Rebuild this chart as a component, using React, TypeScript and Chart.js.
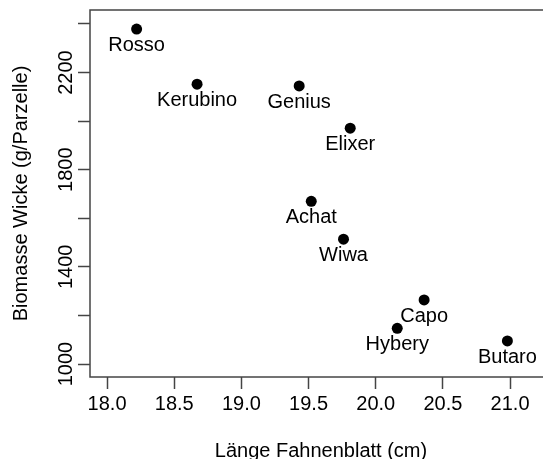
import React, { useEffect, useRef } from "react";
import { Chart, registerables } from "chart.js";

Chart.register(...registerables);

const names = ["Rosso", "Kerubino", "Genius", "Elixer", "Achat", "Wiwa", "Capo", "Hybery", "Butaro"];
const lengths = [18.22, 18.67, 19.43, 19.81, 19.52, 19.76, 20.36, 20.16, 20.98];
const biomass = [2379, 2152, 2145, 1971, 1670, 1514, 1264, 1147, 1095];
const labeledYTicks = [1000, 1400, 1800, 2200];
const xTitle = "Länge Fahnenblatt (cm)";
const yTitle = "Biomasse Wicke (g/Parzelle)";

const FONT = "'Liberation Sans', Arial, Helvetica, sans-serif";
const FS = 20;
const LINE = "#444";

export default function App() {
  const ref = useRef<HTMLCanvasElement>(null);

  useEffect(() => {
    const canvas = ref.current;
    if (!canvas) return;

    const textPlugin = {
      id: "rtext",
      afterDraw(chart: any) {
        const ctx = chart.ctx as CanvasRenderingContext2D;
        const area = chart.chartArea;
        const ys = chart.scales.y;
        ctx.save();
        // box
        ctx.strokeStyle = LINE;
        ctx.lineWidth = 1.5;
        ctx.strokeRect(area.left, area.top, area.right - area.left, area.bottom - area.top);
        ctx.fillStyle = "#000";
        ctx.font = `${FS}px ${FONT}`;
        // point labels
        const meta = chart.getDatasetMeta(0);
        ctx.textAlign = "center";
        ctx.textBaseline = "alphabetic";
        meta.data.forEach((el: any, i: number) => {
          ctx.fillText(names[i], el.x, el.y + 22);
        });
        // x title
        ctx.fillText(xTitle, (area.left + area.right) / 2, 457);
        // y tick labels
        ys.ticks.forEach((t: any) => {
          if (!labeledYTicks.includes(t.value)) return;
          const py = ys.getPixelForValue(t.value);
          ctx.save();
          ctx.translate(72, py);
          ctx.rotate(-Math.PI / 2);
          ctx.fillText(String(t.value), 0, 0);
          ctx.restore();
        });
        // y title
        ctx.save();
        ctx.translate(27, (area.top + area.bottom) / 2);
        ctx.rotate(-Math.PI / 2);
        ctx.fillText(yTitle, 0, 0);
        ctx.restore();
        ctx.restore();
      },
    };

    const chart = new Chart(canvas, {
      type: "scatter",
      data: {
        datasets: [
          {
            data: lengths.map((x, i) => ({ x, y: biomass[i] })),
            backgroundColor: "#000",
            borderColor: "#000",
            pointRadius: 5.5,
            pointHoverRadius: 5.5,
            borderWidth: 0,
          },
        ],
      },
      options: {
        responsive: false,
        animation: false,
        devicePixelRatio: 1,
        layout: { padding: { top: 10, right: 8, left: 0, bottom: 0 } },
        plugins: { legend: { display: false }, tooltip: { enabled: false } },
        scales: {
          x: {
            type: "linear",
            min: 17.873,
            max: 21.312,
            afterFit: (s: any) => {
              s.height = 82;
            },
            border: { display: false },
            grid: {
              drawOnChartArea: false,
              drawTicks: true,
              tickLength: 12,
              tickColor: LINE,
              tickWidth: 1.5,
            },
            ticks: {
              stepSize: 0.5,
              includeBounds: false,
              color: "#000",
              font: { family: FONT, size: FS },
              padding: 3,
              maxRotation: 0,
              autoSkip: false,
              callback: (v: any) => Number(v).toFixed(1),
            },
          },
          y: {
            type: "linear",
            min: 946.5,
            max: 2457.6,
            afterFit: (s: any) => {
              s.width = 90;
            },
            border: { display: false },
            grid: {
              drawOnChartArea: false,
              drawTicks: true,
              tickLength: 12,
              tickColor: LINE,
              tickWidth: 1.5,
            },
            ticks: {
              stepSize: 200,
              includeBounds: false,
              autoSkip: false,
              font: { family: FONT, size: 1 },
              callback: () => "",
            },
          },
        },
      },
      plugins: [textPlugin],
    });
    return () => chart.destroy();
  }, []);

  return (
    <div style={{ position: "fixed", left: 0, top: 0, width: 543, height: 459, overflow: "hidden", background: "#fff" }}>
      <canvas ref={ref} width={560} height={459} style={{ width: 560, height: 459, display: "block" }} />
    </div>
  );
}
